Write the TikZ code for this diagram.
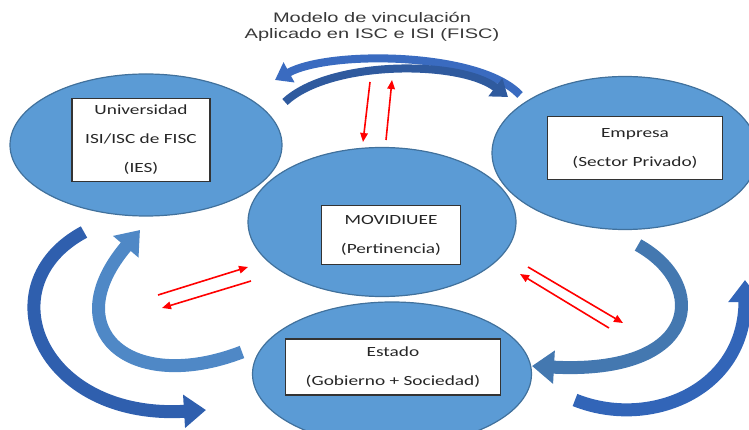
\documentclass[tikz,border=0pt]{standalone}
\usepackage{fontspec}
\setmainfont{Carlito}[FakeStretch=1.38]
\newfontfamily\titlefont{Liberation Sans}[FakeStretch=1.45]
\usetikzlibrary{shapes.geometric,arrows.meta}
\definecolor{elfill}{HTML}{5B9BD5}
\definecolor{eldraw}{HTML}{41719C}
\definecolor{topa}{HTML}{3A6BC0}
\definecolor{topb}{HTML}{2F5A9E}
\definecolor{outl}{HTML}{2F5FAE}
\definecolor{inl}{HTML}{4F88C6}
\definecolor{inr}{HTML}{4478B0}
\definecolor{outr}{HTML}{3265B8}
\begin{document}
\begin{tikzpicture}[x=1pt,y=-1pt,
    circ/.style={ellipse,fill=elfill,draw=eldraw,line width=1.2pt,inner sep=0pt},
    box/.style={draw=black!80,fill=white,line width=1.2pt,align=center,inner sep=0pt,
      text=black!85,font=\fontsize{14}{29}\selectfont},
    flow/.style={line width=#1,-{Triangle[length=22pt,width=32pt]}},
    thinflow/.style={line width=8pt,-{Triangle[length=16pt,width=22pt]}},
    link/.style={draw=red,line width=1.6pt,-{Triangle[length=9pt,width=7.5pt]}}]
  \useasboundingbox (0,0) rectangle (749,430);
  \clip (0,0) rectangle (749,430);
  \node[circ,minimum width=272pt,minimum height=142pt] (univ) at (146,145) {};
  \node[circ,minimum width=266pt,minimum height=153pt] (emp) at (625,153) {};
  \node[circ,minimum width=268pt,minimum height=149pt] (movi) at (382,222) {};
  \node[circ,minimum width=279pt,minimum height=144pt] (est) at (392,374) {};
  \node[box,minimum width=138pt,minimum height=83pt] (univbox) at (141,140)
    {Universidad\\ISI/ISC de FISC\\(IES)};
  \node[box,minimum width=175pt,minimum height=63pt] (empbox) at (635,148)
    {Empresa\\(Sector Privado)};
  \node[box,minimum width=139pt,minimum height=59pt] (movibox) at (391,235)
    {MOVIDIUEE\\(Pertinencia)};
  \node[box,minimum width=215pt,minimum height=56pt] (estbox) at (393,367)
    {Estado\\(Gobierno + Sociedad)};
  \node[align=center,text=black!78,font=\titlefont\fontsize{13.8}{16}\selectfont] (title) at (372,27)
    {Modelo de vinculación\\Aplicado en ISC e ISI (FISC)};
  \foreach \n/\x/\y in {ta/520/95,tb/275/80,tc/285/102,td/508/97,
      la/84/232,lb/206/410,lc/242/352,ld/140/230,
      ra/638/245,rb/532/366,rc/575/400,rd/745/280,
      a1/370/82,a2/363/142,a3/386/140,a4/392/80,
      b1/158/295,b2/248/267,b3/251/281,b4/162/308,
      c1/528/267,c2/623/323,c3/609/328,c4/520/274}
    \coordinate (\n) at (\x,\y);
  \draw[thinflow,topa] (ta) .. controls (480,52) and (330,50) .. (tb);
  \draw[thinflow,topb] (tc) .. controls (330,60) and (460,60) .. (td);
  \draw[flow=13pt,outl] (la) .. controls (-15,285) and (40,420) .. (lb);
  \draw[flow=13pt,inl] (lc) .. controls (130,395) and (55,330) .. (ld);
  \draw[flow=13pt,inr] (ra) .. controls (710,285) and (700,375) .. (rb);
  \draw[flow=13pt,outr] (rc) .. controls (650,430) and (745,390) .. (rd);
  \foreach \s/\e in {a1/a2,a3/a4,b1/b2,b3/b4,c1/c2,c3/c4}
    \draw[link] (\s) -- (\e);
\end{tikzpicture}
\end{document}
